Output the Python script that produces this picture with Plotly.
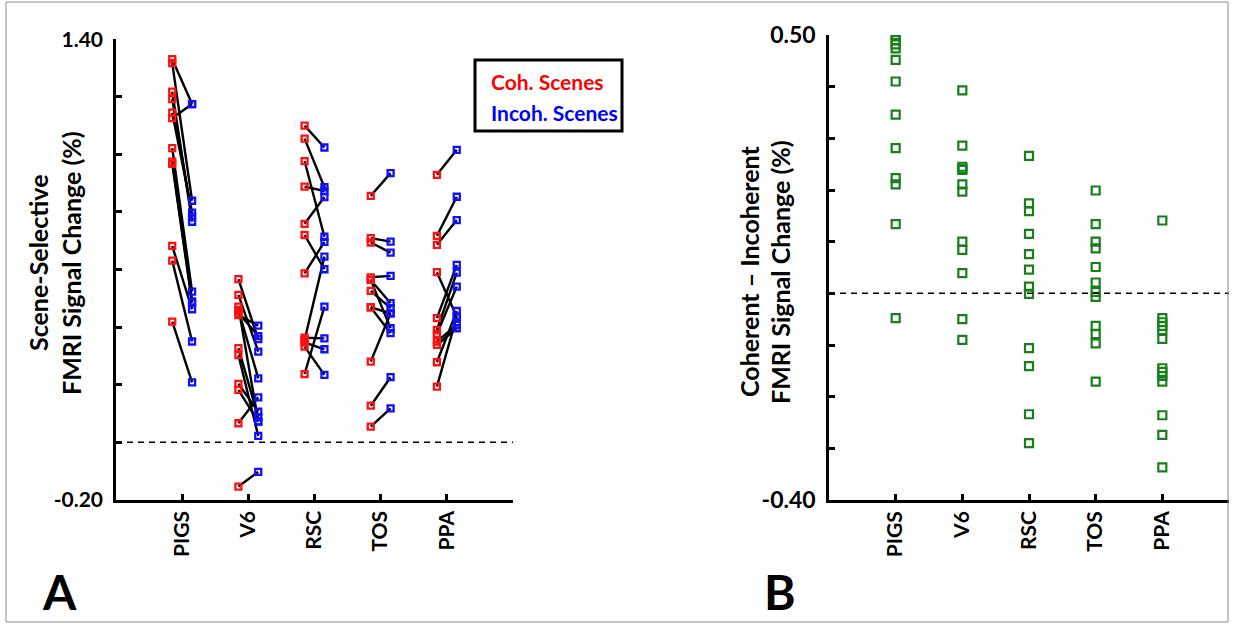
import plotly.graph_objs as go

# figure size in pixels
W, H = 1233, 624

regions = ["PIGS", "V6", "RSC", "TOS", "PPA"]

# panel A: coherent vs incoherent scenes, one entry per subject (paired by index)
coh_pigs = [1.331, 1.317, 1.218, 1.192, 1.145, 1.126, 1.022, 0.975, 0.967, 0.682, 0.631, 0.419]
incoh_pigs = [1.175, 0.839, 0.766, 0.784, 0.798, 1.175, 0.523, 0.489, 0.485, 0.462, 0.350, 0.208]

coh_v6 = [0.567, 0.512, 0.471, 0.460, 0.442, 0.450, 0.327, 0.303, 0.203, 0.182, 0.066, -0.154]
incoh_v6 = [0.358, 0.315, 0.072, 0.222, 0.405, 0.369, 0.087, 0.022, 0.106, 0.072, 0.156, -0.103]

coh_rsc = [1.100, 1.055, 0.977, 0.888, 0.759, 0.720, 0.587, 0.363, 0.355, 0.347, 0.332, 0.237]
incoh_rsc = [1.024, 0.886, 0.714, 0.873, 0.852, 0.601, 0.696, 0.361, 0.645, 0.323, 0.234, 0.471]

coh_tos = [0.856, 0.709, 0.694, 0.573, 0.564, 0.526, 0.469, 0.564, 0.469, 0.280, 0.127, 0.054]
incoh_tos = [0.935, 0.697, 0.659, 0.578, 0.483, 0.466, 0.448, 0.396, 0.379, 0.448, 0.226, 0.118]

coh_ppa = [0.929, 0.717, 0.686, 0.591, 0.431, 0.390, 0.376, 0.350, 0.338, 0.278, 0.193]
incoh_ppa = [1.016, 0.853, 0.772, 0.436, 0.616, 0.589, 0.541, 0.408, 0.396, 0.456, 0.436]

# panel B: coherent - incoherent
diff_pigs = [0.500, 0.490, 0.482, 0.474, 0.452, 0.410, 0.346, 0.281, 0.223, 0.211, 0.134, -0.048]
diff_v6 = [0.393, 0.286, 0.245, 0.241, 0.239, 0.211, 0.197, 0.100, 0.084, 0.039, -0.050, -0.090]
diff_rsc = [0.266, 0.174, 0.159, 0.115, 0.076, 0.046, 0.013, -0.001, -0.106, -0.141, -0.234, -0.290]
diff_tos = [0.199, 0.134, 0.100, 0.087, 0.051, 0.021, 0.003, -0.007, -0.063, -0.079, -0.097, -0.171]
diff_ppa = [0.141, -0.048, -0.056, -0.063, -0.071, -0.088, -0.145, -0.152, -0.160, -0.171, -0.236, -0.274, -0.337]

coh_all = [coh_pigs, coh_v6, coh_rsc, coh_tos, coh_ppa]
incoh_all = [incoh_pigs, incoh_v6, incoh_rsc, incoh_tos, incoh_ppa]
diff_all = [diff_pigs, diff_v6, diff_rsc, diff_tos, diff_ppa]

FONT = "Lato"
OFFSET = 0.15  # red left of the tick, blue right of it


def px(x):
    return x / W


def py(y):
    return 1 - y / H


fig = go.Figure()

# connecting lines, one segment per subject
line_x, line_y = [], []
for i, (c, n) in enumerate(zip(coh_all, incoh_all)):
    pos = i + 1
    for a, b in zip(c, n):
        line_x += [pos - OFFSET, pos + OFFSET, None]
        line_y += [a, b, None]
fig.add_trace(go.Scatter(x=line_x, y=line_y, mode="lines",
                         line=dict(color="black", width=2.4),
                         xaxis="x", yaxis="y", showlegend=False, hoverinfo="skip"))

red_x, red_y, blue_x, blue_y = [], [], [], []
for i, (c, n) in enumerate(zip(coh_all, incoh_all)):
    red_x += [i + 1 - OFFSET] * len(c)
    red_y += c
    blue_x += [i + 1 + OFFSET] * len(n)
    blue_y += n
fig.add_trace(go.Scatter(x=red_x, y=red_y, mode="markers",
                         marker=dict(symbol="square-open", size=6, color="#ff1010",
                                     line=dict(width=2.3, color="#ff1010")),
                         xaxis="x", yaxis="y", showlegend=False))
fig.add_trace(go.Scatter(x=blue_x, y=blue_y, mode="markers",
                         marker=dict(symbol="square-open", size=6, color="#1010ff",
                                     line=dict(width=2.3, color="#1010ff")),
                         xaxis="x", yaxis="y", showlegend=False))

# panel B dots
gx, gy = [], []
for i, d in enumerate(diff_all):
    gx += [i + 1] * len(d)
    gy += d
fig.add_trace(go.Scatter(x=gx, y=gy, mode="markers",
                         marker=dict(symbol="square-open", size=8, color="#17801a",
                                     line=dict(width=2.2, color="#17801a")),
                         xaxis="x2", yaxis="y2", showlegend=False))

tick_font = dict(family=FONT, size=21, color="black", weight="bold")

common_x = dict(range=[0, 6], tickvals=[1, 2, 3, 4, 5], ticktext=regions, tickangle=-90,
                ticks="inside", ticklen=6, tickwidth=2.5, tickcolor="black",
                showline=True, linewidth=2.5, linecolor="black", showgrid=False,
                zeroline=False, tickfont=tick_font, fixedrange=True, automargin=False)
common_y = dict(ticks="inside", ticklen=6, tickwidth=2.5, tickcolor="black",
                showline=True, linewidth=2.5, linecolor="black", showgrid=False,
                zeroline=False, fixedrange=True, ticklabelstandoff=6, automargin=False)

a_ticks = [-0.2, 0, 0.2, 0.4, 0.6, 0.8, 1.0, 1.2, 1.4]
b_ticks = [-0.4, -0.3, -0.2, -0.1, 0, 0.1, 0.2, 0.3, 0.4, 0.5]

fig.update_layout(
    width=W, height=H,
    margin=dict(l=0, r=0, t=0, b=0),
    paper_bgcolor="white", plot_bgcolor="white",
    xaxis=dict(common_x, domain=[px(116), px(513)], anchor="y"),
    yaxis=dict(common_y, domain=[py(499.8), py(39.3)], range=[-0.2, 1.4], anchor="x",
               tickvals=a_ticks, ticktext=["-0.20"] + [""] * 7 + ["1.40"],
               tickfont=dict(tick_font, size=21)),
    xaxis2=dict(common_x, domain=[px(829), px(1229)], anchor="y2"),
    yaxis2=dict(common_y, domain=[py(500), py(35)], range=[-0.4, 0.5], anchor="x2",
                tickvals=b_ticks, ticktext=["-0.40"] + [""] * 8 + ["0.50"],
                tickfont=dict(tick_font, size=23)),
)

# zero reference lines
for xr, yr in [("x", "y"), ("x2", "y2")]:
    fig.add_shape(type="line", xref=xr, yref=yr, x0=0, x1=6, y0=0, y1=0,
                  line=dict(color="black", width=1.5, dash="6px,5px"))

# legend box for panel A
fig.add_shape(type="rect", xref="paper", yref="paper",
              x0=px(475), x1=px(622), y0=py(131), y1=py(60),
              line=dict(color="black", width=3), fillcolor="white", layer="below")

# thin frame around the whole figure
fig.add_shape(type="rect", xref="paper", yref="paper",
              x0=px(6), x1=px(1228), y0=py(622), y1=py(2),
              line=dict(color="#888888", width=1))

notes = [
    ("Coh. Scenes", 489, 82, "#ff0000", 21),
    ("Incoh. Scenes", 489, 112, "#0000ff", 21),
]
for text, x, y, col, size in notes:
    fig.add_annotation(text=text, xref="paper", yref="paper", x=px(x), y=py(y),
                       xanchor="left", yanchor="middle", showarrow=False,
                       font=dict(family=FONT, size=size, color=col, weight="bold"))

# panel letters
for text, x in [("A", 59), ("B", 780)]:
    fig.add_annotation(text=text, xref="paper", yref="paper", x=px(x), y=py(622),
                       xanchor="center", yanchor="bottom", showarrow=False,
                       font=dict(family=FONT, size=48, color="black", weight="bold"))

# rotated axis titles
titles = [
    ("Scene-Selective", 38, 263),
    ("FMRI Signal Change (%)", 71, 263),
    ("Coherent \u2013 Incoherent", 749, 272),
    ("FMRI Signal Change (%)", 780, 272),
]
for text, x, y in titles:
    fig.add_annotation(text=text, xref="paper", yref="paper", x=px(x), y=py(y),
                       xanchor="center", yanchor="middle", showarrow=False, textangle=-90,
                       font=dict(family=FONT, size=25, color="black", weight="bold"))

# drop the default page margin so the figure sits at the window's top-left corner
fig.write_html("out.html", config={"displayModeBar": False},
               post_script="document.body.style.margin='0';")
